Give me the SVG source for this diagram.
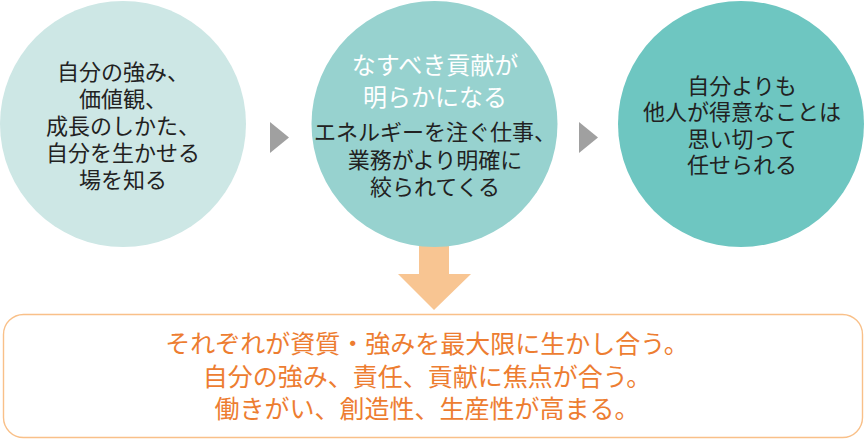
<svg xmlns="http://www.w3.org/2000/svg" width="864" height="440" viewBox="0 0 864 440">
<style>
text{font-family:"Noto Sans CJK JP","Noto Sans CJK SC",sans-serif;text-anchor:middle}
.b{font-size:22px;fill:#222}
.w{font-size:24px;fill:#fff}
.o{font-size:25px;fill:#ed7d31}
.tri{fill:#a0a0a0}
</style>
<rect width="864" height="440" fill="#fff"/>
<g id="connectors">
<polygon class="tri" points="270,122 289,137.5 270,153"/>
<polygon class="tri" points="579,122 598,137.5 579,153"/>
<polygon fill="#f8c592" points="419,235 449,235 449,274 471,274 434,310 398,274 419,274"/>
</g>
<g id="node1">
<circle cx="123" cy="124" r="123" fill="#cde7e5"/>
<text class="b" x="123" y="80">自分の強み、</text>
<text class="b" x="123" y="107">価値観、</text>
<text class="b" x="123" y="134">成長のしかた、</text>
<text class="b" x="123" y="161">自分を生かせる</text>
<text class="b" x="123" y="188">場を知る</text>
</g>
<g id="node2">
<circle cx="434.5" cy="124" r="123" fill="#97d2cf"/>
<text class="w" x="435" y="74">なすべき貢献が</text>
<text class="w" x="435" y="106">明らかになる</text>
<text class="b" x="435" y="140">エネルギーを注ぐ仕事、</text>
<text class="b" x="435" y="168">業務がより明確に</text>
<text class="b" x="435" y="195">絞られてくる</text>
</g>
<g id="node3">
<circle cx="741" cy="124" r="123" fill="#6ec6c1"/>
<text class="b" x="742" y="94">自分よりも</text>
<text class="b" x="742" y="120">他人が得意なことは</text>
<text class="b" x="742" y="147">思い切って</text>
<text class="b" x="742" y="173">任せられる</text>
</g>
<g id="result">
<rect x="3.5" y="314.5" width="859" height="123" rx="20" fill="#fff" stroke="#f9c089" stroke-width="1.4"/>
<text class="o" x="427" y="353">それぞれが資質・強みを最大限に生かし合う。</text>
<text class="o" x="427" y="386">自分の強み、責任、貢献に焦点が合う。</text>
<text class="o" x="427" y="418">働きがい、創造性、生産性が高まる。</text>
</g>
</svg>
